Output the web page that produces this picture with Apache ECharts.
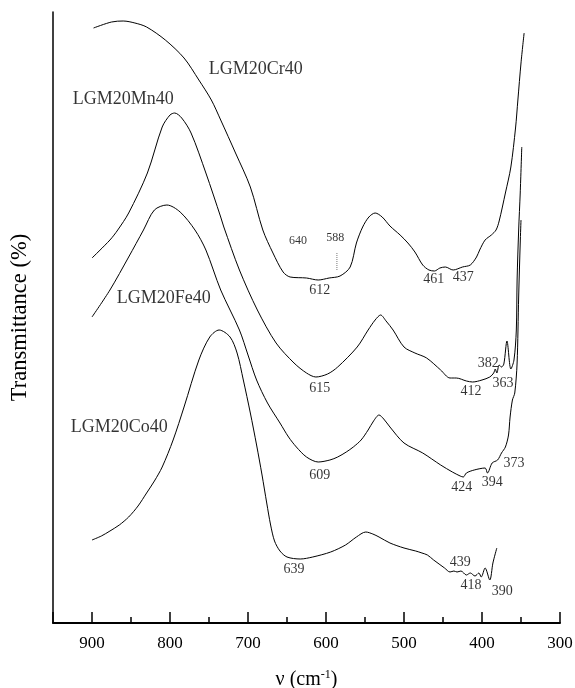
<!DOCTYPE html>
<html><head><meta charset="utf-8">
<script src="https://cdn.jsdelivr.net/npm/echarts@6/dist/echarts.min.js"></script>
<style>html,body{margin:0;padding:0;background:#fff}#c{width:575px;height:688px}</style>
</head><body><div id="c"></div>
<script>
// Wavenumber (cm-1), transmittance (arbitrary offset units)
const cr40 = [[898,595],[875,601],[860,602],[845,600],[830,596],[806,583],[782,565],[763,543],[747,523],[735,503],[716,470],[697,436],[681,393],[668,370],[655,351],[646,346],[625,345],[610,343],[596,345],[582,347],[569,356],[561,380],[553,396],[545,406],[537,410],[528,406],[518,397],[505,388],[495,380],[486,371],[476,358],[468,353],[461,352],[454,355],[447,356],[437,353],[425,356],[415,358],[407,366],[403,373],[396,383],[388,388],[382,393],[378,402],[370,430],[363,456],[357,495],[354,523],[350,560],[346,590]];
const mn40 = [[900,365],[877,383],[867,393],[853,410],[829,450],[810,496],[800,508],[794,510],[785,505],[773,490],[754,450],[735,406],[731,396],[711,353],[688,313],[664,280],[641,260],[625,250],[613,246],[598,249],[585,256],[560,276],[546,293],[537,303],[530,308],[523,302],[514,293],[500,276],[486,270],[471,265],[453,253],[441,245],[433,245],[420,242],[412,241],[400,243],[390,246],[385,250],[383,254],[381,250],[378,258],[375,256],[372,259],[368,282],[363,254],[359,263],[356,293],[355,343],[353,393],[351,430],[349,476]];
const fe40 = [[900,306],[877,333],[853,366],[834,393],[820,413],[804,418],[787,411],[768,393],[754,373],[735,333],[711,293],[700,268],[689,243],[675,220],[659,200],[648,186],[638,176],[625,166],[610,161],[595,163],[585,166],[574,171],[565,176],[555,183],[546,193],[539,202],[532,208],[526,204],[518,196],[500,180],[476,170],[453,158],[438,151],[428,147],[424,146],[420,150],[410,153],[396,155],[393,150],[387,160],[380,163],[375,170],[370,176],[366,188],[364,206],[361,223],[358,230],[355,260],[353,326],[351,380],[350,403]];
const co40 = [[900,83],[888,87],[877,92],[865,98],[853,106],[841,117],[830,130],[820,142],[810,156],[796,183],[782,216],[763,263],[749,286],[737,293],[723,286],[714,270],[706,243],[697,210],[689,178],[682,148],[676,120],[671,98],[666,82],[659,72],[650,66],[633,64],[617,66],[594,71],[575,78],[561,86],[549,91],[540,89],[532,86],[518,80],[500,75],[485,72],[477,70],[470,68],[462,63],[448,55],[441,51],[436,52],[432,51],[427,52],[420,48],[415,50],[409,47],[404,50],[401,46],[396,55],[390,43],[386,60],[381,75]];
const marker588 = [[586,353],[586,371]];

// Text annotations: [text, wavenumber, transmittance, kind]
const annotations = [
  ['LGM20Cr40',690,554,'name'],['LGM20Mn40',860,524,'name'],['LGM20Fe40',808,325,'name'],['LGM20Co40',865,196,'name'],
  ['640',636,382,'small'],['588',588,385,'small'],
  ['612',608,333,'num'],['461',462,344,'num'],['437',424,346,'num'],
  ['615',608,235,'num'],['412',414,232,'num'],['382',392,260,'num'],['363',373,240,'num'],
  ['609',608,148,'num'],['424',426,136,'num'],['394',387,141,'num'],['373',359,160,'num'],
  ['639',641,54,'num'],['439',428,61,'num'],['418',414,38,'num'],['390',374,32,'num']
];

const FONT = 'Liberation Serif, Times New Roman, serif';
const sizes = {name: 18, num: 14, small: 12};
const chart = echarts.init(document.getElementById('c'));
const lineSeries = (d) => ({type:'line', data:d, showSymbol:false, smooth:0.3, lineStyle:{color:'#000', width:1}, xAxisIndex:0, yAxisIndex:0, silent:true});
chart.setOption({
  animation:false,
  backgroundColor:'#fff',
  grid:{left:53, right:15, top:12, bottom:65, containLabel:false, outerBoundsMode:'none'},
  xAxis:[{
    type:'value', min:300, max:950, interval:100, inverse:true,
    axisLine:{show:true, lineStyle:{color:'#000', width:2}},
    axisTick:{show:true, inside:true, length:11, lineStyle:{color:'#000', width:1.5}},
    axisLabel:{margin:12, color:'#000', fontSize:17, fontFamily:FONT, formatter:v => (v % 100 === 0 ? String(v) : '')},
    splitLine:{show:false},
    name:'ν (cm{sup|-1})', nameLocation:'middle', nameGap:46,
    nameTextStyle:{color:'#000', fontSize:20, fontFamily:FONT, rich:{sup:{fontSize:12, fontFamily:FONT, color:'#000', verticalAlign:'top', padding:[0,0,10,0]}}}
  },{
    type:'value', min:300, max:950, interval:50, inverse:true, position:'bottom',
    axisLine:{show:false},
    axisTick:{show:true, inside:true, length:6, lineStyle:{color:'#000', width:1.5}},
    axisLabel:{show:false}, splitLine:{show:false}
  }],
  yAxis:{
    type:'value', min:0, max:611,
    axisLine:{show:true, lineStyle:{color:'#000', width:1.5}},
    axisTick:{show:false}, axisLabel:{show:false}, splitLine:{show:false},
    name:'Transmittance (%)', nameLocation:'middle', nameGap:21,
    nameTextStyle:{color:'#000', fontSize:22.5, fontFamily:FONT}
  },
  series:[
    lineSeries(cr40), lineSeries(mn40), lineSeries(fe40), lineSeries(co40),
    {type:'line', data:marker588, showSymbol:false, lineStyle:{color:'#777', width:1, type:'dotted'}, silent:true},
    {type:'scatter', symbolSize:0, silent:true,
     data: annotations.map(a => ({value:[a[1], a[2]], name:a[0],
       label:{show:true, position:'inside', formatter:a[0], color:'#000', fontSize:sizes[a[3]], fontFamily:FONT}}))}
  ]
});
</script></body></html>
